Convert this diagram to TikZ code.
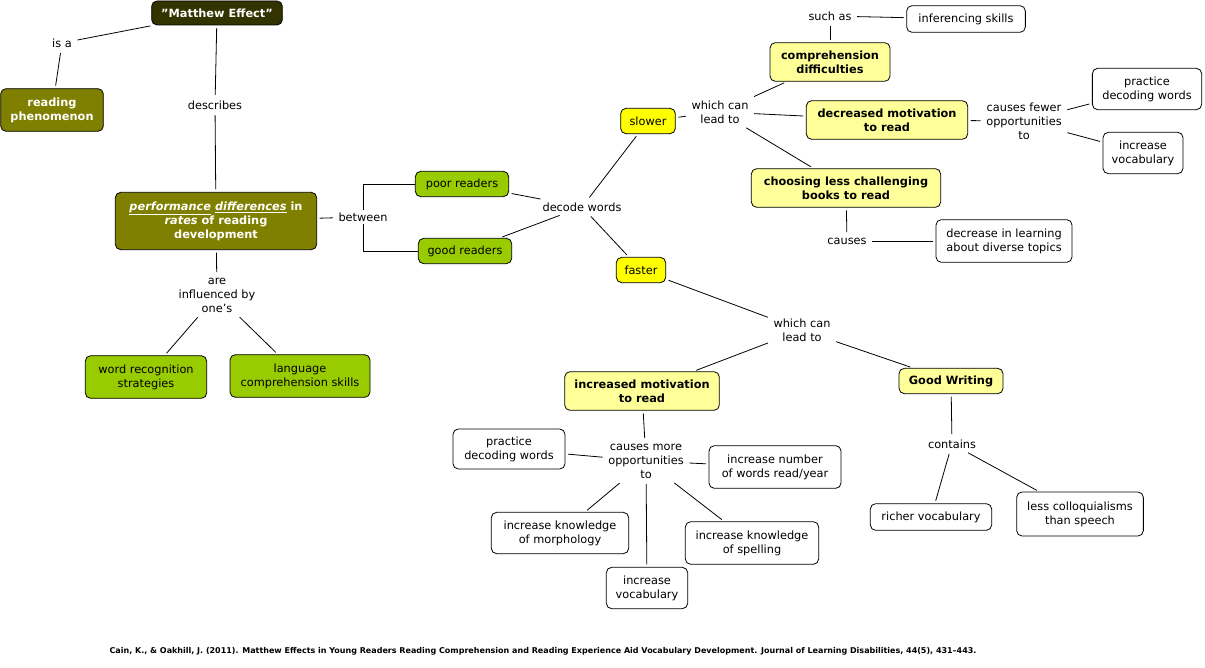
\documentclass[tikz,border=0pt]{standalone}
\usepackage{fontspec}
\setmainfont{DejaVu Sans}
\usetikzlibrary{positioning}
\definecolor{darkolive}{HTML}{333300}
\definecolor{olive}{HTML}{808000}
\definecolor{leaf}{HTML}{99CC00}
\definecolor{pale}{HTML}{FFFF99}
\definecolor{bright}{HTML}{FFFF00}
\tikzstyle{concept}=[draw=black,fill=#1,rounded corners=4pt,align=center,inner sep=3pt,font=\fontsize{8.5}{10.5}\selectfont]
\tikzstyle{lbl}=[align=center,inner sep=2pt,font=\fontsize{8.5}{10.5}\selectfont]
\newcommand{\link}[2]{\draw[shorten <=2pt,shorten >=2pt] (#1) -- (#2);}

\begin{document}
\begin{tikzpicture}[x=0.75pt,y=-0.75pt,line width=0.6pt]
    \useasboundingbox (0,0) rectangle (1205,667);
    % concepts
    \node[concept=darkolive,text=white,font=\fontsize{8.5}{10.5}\selectfont\bfseries,minimum width=98pt,minimum height=18pt] (matthew) at (217,13) {"Matthew Effect"};
    \node[concept=olive,text=white,font=\fontsize{8.5}{10.5}\selectfont\bfseries,minimum width=77pt,minimum height=32pt] (phen) at (52,110) {reading\\phenomenon};
    \node[concept=olive,text=white,font=\fontsize{8.5}{10.5}\selectfont\bfseries,minimum width=151pt,minimum height=43pt] (perf) at (216,221) {\underline{\itshape performance} \underline{\itshape differences} in\\{\itshape rates} of reading\\development};
    \node[concept=leaf,minimum width=70pt,minimum height=19pt] (poor) at (462,184) {poor readers};
    \node[concept=leaf,minimum width=70pt,minimum height=19pt] (good) at (465,251) {good readers};
    \node[concept=leaf,minimum width=91pt,minimum height=32pt] (wordrec) at (146,377) {word recognition\\strategies};
    \node[concept=leaf,minimum width=105pt,minimum height=32pt] (langcomp) at (300,376) {language\\comprehension skills};
    \node[concept=bright,minimum width=41pt,minimum height=19pt] (slower) at (648,121) {slower};
    \node[concept=bright,minimum width=37pt,minimum height=19pt] (faster) at (641,270) {faster};
    \node[concept=pale,font=\fontsize{8.5}{10.5}\selectfont\bfseries,minimum width=90pt,minimum height=29pt] (compdiff) at (830,62) {comprehension\\difficulties};
    \node[concept=pale,font=\fontsize{8.5}{10.5}\selectfont\bfseries,minimum width=121pt,minimum height=29pt] (decmot) at (887,120) {decreased motivation\\to read};
    \node[concept=pale,font=\fontsize{8.5}{10.5}\selectfont\bfseries,minimum width=142pt,minimum height=29pt] (choosing) at (846,188) {choosing less challenging\\books to read};
    \node[concept=white,minimum width=89pt,minimum height=20pt] (infer) at (966,19) {inferencing skills};
    \node[concept=white,minimum width=82pt,minimum height=31pt] (practop) at (1147,89) {practice\\decoding words};
    \node[concept=white,minimum width=60pt,minimum height=31pt] (vocabtop) at (1143,153) {increase\\vocabulary};
    \node[concept=white,minimum width=102pt,minimum height=32pt] (diverse) at (1004,241) {decrease in learning\\about diverse topics};
    \node[concept=pale,font=\fontsize{8.5}{10.5}\selectfont\bfseries,minimum width=116pt,minimum height=29pt] (incmot) at (642,391) {increased motivation\\to read};
    \node[concept=pale,font=\fontsize{8.5}{10.5}\selectfont\bfseries,minimum width=78pt,minimum height=19pt] (goodwr) at (951,381) {Good Writing};
    \node[concept=white,minimum width=84pt,minimum height=30pt] (pracbot) at (509,449) {practice\\decoding words};
    \node[concept=white,minimum width=99pt,minimum height=32pt] (numwords) at (775,467) {increase number\\of words read/year};
    \node[concept=white,minimum width=103pt,minimum height=31pt] (morph) at (560,533) {increase knowledge\\of morphology};
    \node[concept=white,minimum width=100pt,minimum height=32pt] (spell) at (752,543) {increase knowledge\\of spelling};
    \node[concept=white,minimum width=61pt,minimum height=31pt] (vocabbot) at (647,588) {increase\\vocabulary};
    \node[concept=white,minimum width=91pt,minimum height=20pt] (richer) at (931,517) {richer vocabulary};
    \node[concept=white,minimum width=95pt,minimum height=33pt] (colloq) at (1080,514) {less colloquialisms\\than speech};
    % linking phrases
    \node[lbl] (isa) at (62,43) {is a};
    \node[lbl] (describes) at (215,105) {describes};
    \node[lbl] (between) at (363,217) {between};
    \node[lbl] (influenced) at (217,295) {are\\influenced by\\one's};
    \node[lbl] (decode) at (582,207) {decode words};
    \node[lbl] (leadslow) at (720,112) {which can\\lead to};
    \node[lbl] (suchas) at (830,16) {such as};
    \node[lbl] (fewer) at (1024,121) {causes fewer\\opportunities\\to};
    \node[lbl] (causes) at (847,241) {causes};
    \node[lbl] (leadfast) at (802,330) {which can\\lead to};
    \node[lbl] (more) at (646,461) {causes more\\opportunities\\to};
    \node[lbl] (contains) at (952,444) {contains};
    \node[font=\fontsize{6}{7}\selectfont\bfseries] (cite) at (543,651) {Cain, K., \& Oakhill, J. (2011). Matthew Effects in Young Readers Reading Comprehension and Reading Experience Aid Vocabulary Development. Journal of Learning Disabilities, 44(5), 431--443.};
    % connectors
    \link{matthew}{isa}
    \link{isa}{phen}
    \link{matthew}{describes}
    \link{describes}{perf}
    \link{perf}{between}
    \draw (between.north) |- (poor.west);
    \draw (between.south) |- (good.west);
    \link{perf}{influenced}
    \link{influenced}{wordrec}
    \link{influenced}{langcomp}
    \link{poor}{decode}
    \link{good}{decode}
    \link{decode}{slower}
    \link{decode}{faster}
    \link{slower}{leadslow}
    \link{leadslow}{compdiff}
    \link{leadslow}{decmot}
    \link{leadslow}{choosing}
    \link{compdiff}{suchas}
    \link{suchas}{infer}
    \link{decmot}{fewer}
    \link{fewer}{practop}
    \link{fewer}{vocabtop}
    \link{choosing}{causes}
    \link{causes}{diverse}
    \link{faster}{leadfast}
    \link{leadfast}{incmot}
    \link{leadfast}{goodwr}
    \link{incmot}{more}
    \link{more}{pracbot}
    \link{more}{numwords}
    \link{more}{morph}
    \link{more}{spell}
    \link{more}{vocabbot}
    \link{goodwr}{contains}
    \link{contains}{richer}
    \link{contains}{colloq}
\end{tikzpicture}
\end{document}
